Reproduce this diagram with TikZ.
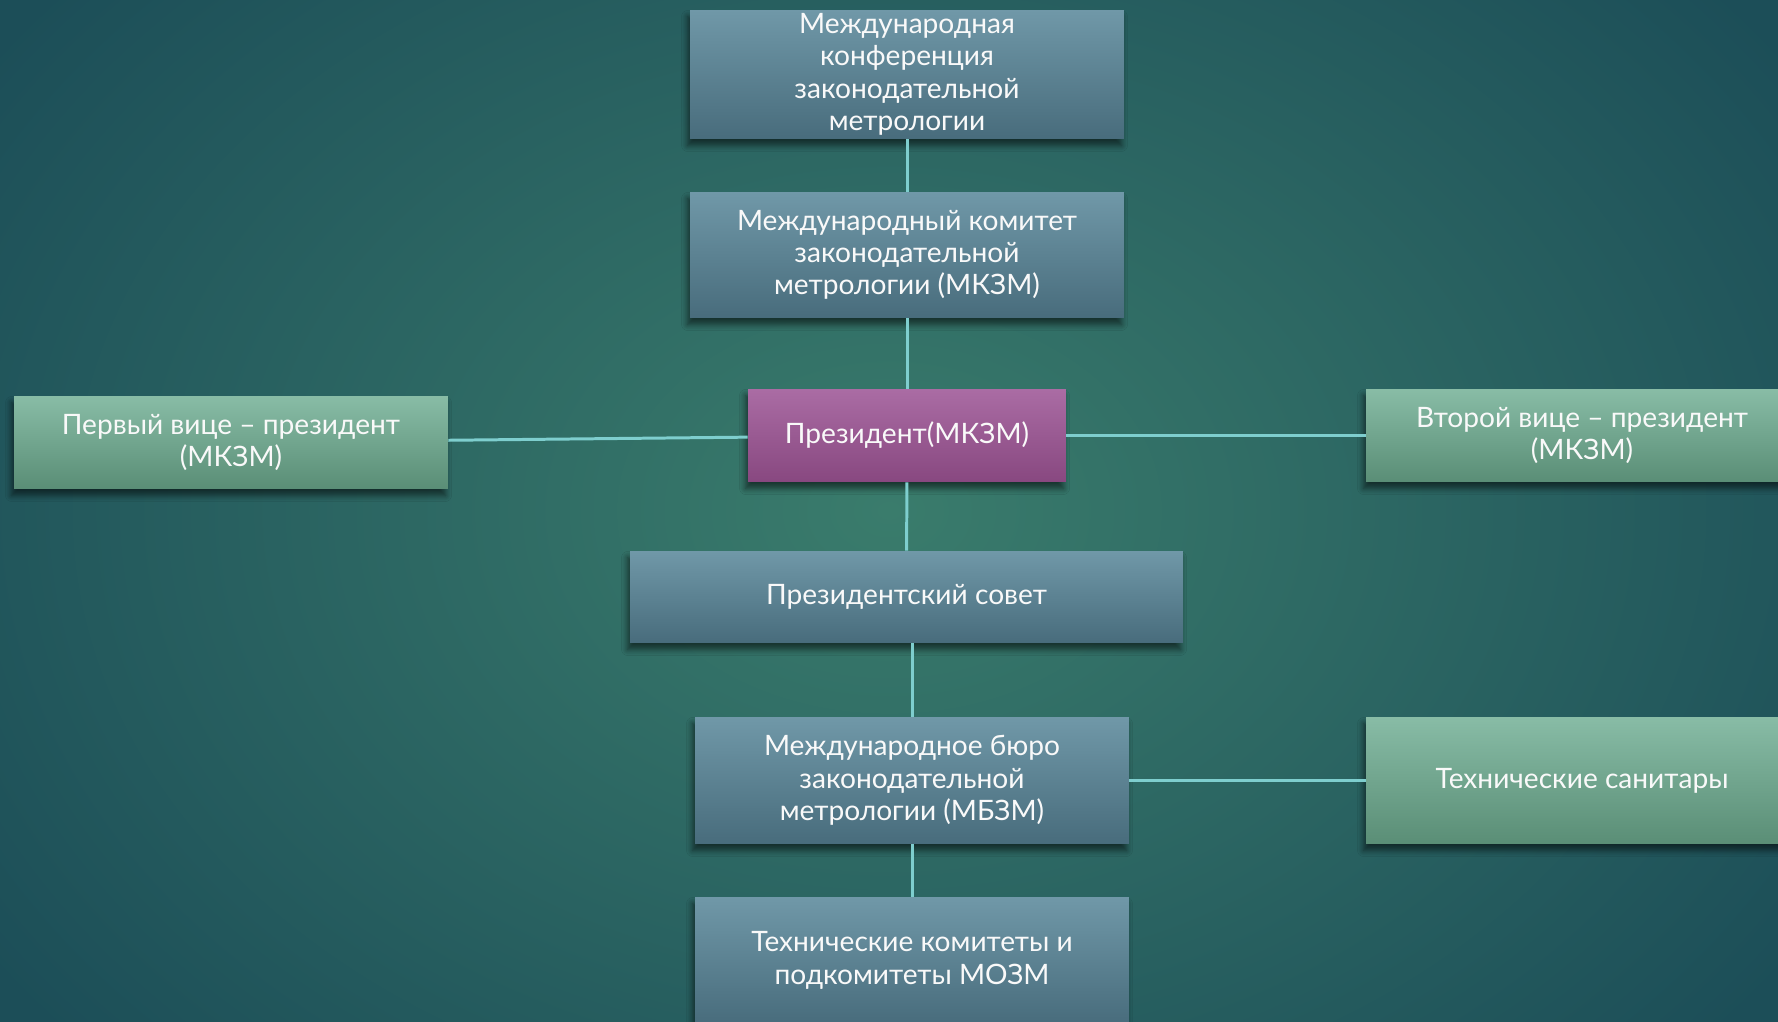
\documentclass[tikz,border=0pt]{standalone}
\usepackage{fontspec}
\setmainfont{Lato}
\usetikzlibrary{shadows.blur}
\definecolor{bgin}{RGB}{58,124,108}
\definecolor{bgout}{RGB}{28,78,88}
\definecolor{bluetop}{RGB}{112,152,168}
\definecolor{bluebot}{RGB}{72,108,124}
\definecolor{greentop}{RGB}{136,188,166}
\definecolor{greenbot}{RGB}{90,142,118}
\definecolor{purptop}{RGB}{170,108,164}
\definecolor{purpbot}{RGB}{136,72,128}
\definecolor{linkcol}{RGB}{126,206,206}
\tikzset{
  orgbox/.style={rectangle, text=white!95!gray, align=center,
    font=\fontsize{16}{18.4}\selectfont, inner sep=2pt,
    blur shadow={shadow xshift=-0.5mm, shadow yshift=-1.3mm,
      shadow opacity=55, shadow blur steps=6, shadow blur radius=1.2mm}},
  bluebox/.style={orgbox, top color=bluetop, bottom color=bluebot},
  greenbox/.style={orgbox, top color=greentop, bottom color=greenbot},
  purpbox/.style={orgbox, top color=purptop, bottom color=purpbot},
  link/.style={linkcol, line width=1.7pt}
}
\begin{document}
\begin{tikzpicture}[x=0.02cm, y=-0.02cm]
  %
  % Background
  \useasboundingbox (0,0) rectangle (1778,1021);
  \shade[inner color=bgin, outer color=bgout] (-200,-300) rectangle (1978,1321);
  %
  % Main column
  \node[bluebox, minimum width=8.68cm, minimum height=2.54cm] (conf) at (907,74.5)
    {Международная\\конференция\\законодательной\\метрологии};
  \node[bluebox, minimum width=8.68cm, minimum height=2.52cm] (comm) at (907,255)
    {Международный комитет\\законодательной\\метрологии (МКЗМ)};
  \node[purpbox, minimum width=6.36cm, minimum height=1.86cm] (pres) at (907,435.5)
    {Президент(МКЗМ)};
  \node[bluebox, minimum width=11.06cm, minimum height=1.84cm] (council) at (906.5,597)
    {Президентский совет};
  \node[bluebox, minimum width=8.68cm, minimum height=2.54cm] (bureau) at (912,780.5)
    {Международное бюро\\законодательной\\метрологии (МБЗМ)};
  \node[bluebox, minimum width=8.68cm, minimum height=2.54cm] (tc) at (912,960.5)
    {Технические комитеты и\\подкомитеты МОЗМ};
  %
  % Side boxes
  \node[greenbox, minimum width=8.68cm, minimum height=1.86cm] (vpone) at (231,442.5)
    {Первый вице – президент\\(МКЗМ)};
  \node[greenbox, minimum width=8.64cm, minimum height=1.86cm] (vptwo) at (1582,435.5)
    {Второй вице – президент\\(МКЗМ)};
  \node[greenbox, minimum width=8.64cm, minimum height=2.54cm] (sanit) at (1582,780.5)
    {Технические санитары};
  %
  % Connectors
  \draw[link] (conf) -- (comm);
  \draw[link] (comm) -- (pres);
  \draw[link] (pres) -- (council);
  \draw[link] (council.south -| bureau.north) -- (bureau.north);
  \draw[link] (bureau) -- (tc);
  \draw[link] (vpone) -- (pres);
  \draw[link] (pres) -- (vptwo);
  \draw[link] (bureau) -- (sanit);
\end{tikzpicture}
\end{document}
